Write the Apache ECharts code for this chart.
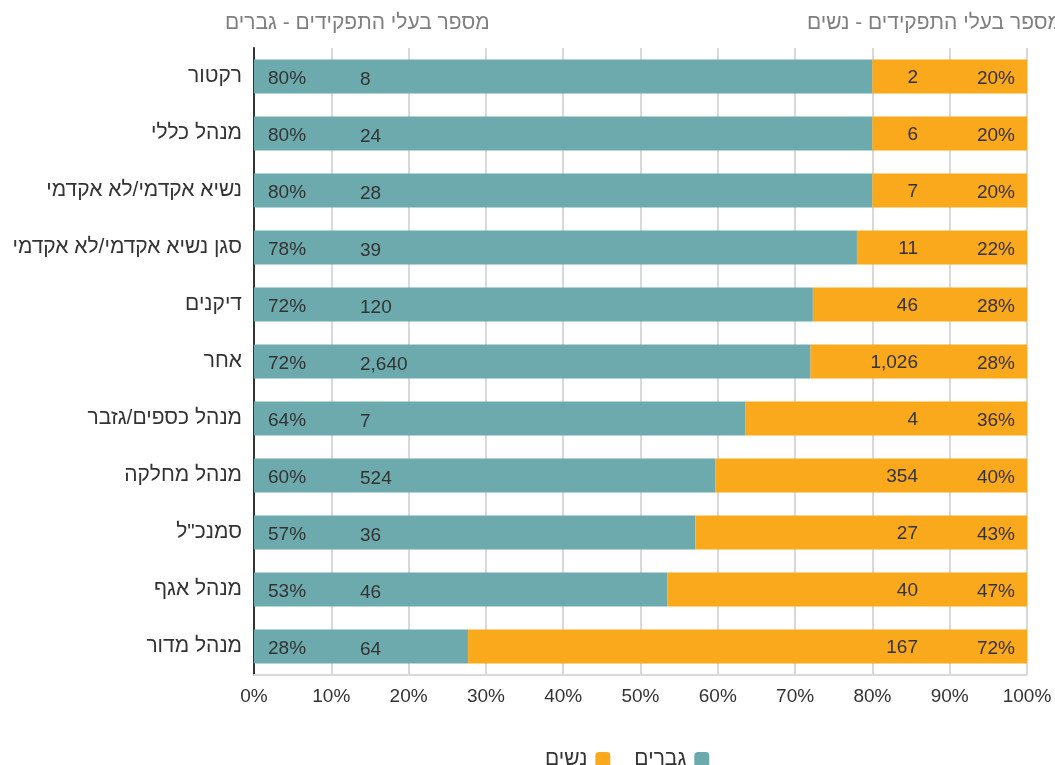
<!DOCTYPE html>
<html>
<head>
<meta charset="utf-8">
<script src="https://cdn.jsdelivr.net/npm/echarts@6/dist/echarts.min.js"></script>
<style>
html, body { margin: 0; padding: 0; background: #fff; }
#chart { width: 1055px; height: 765px; }
</style>
</head>
<body>
<div id="chart"></div>
<script>
const categories = ['רקטור', 'מנהל כללי', 'נשיא אקדמי/לא אקדמי', 'סגן נשיא אקדמי/לא אקדמי', 'דיקנים', 'אחר', 'מנהל כספים/גזבר', 'מנהל מחלקה', 'סמנכ"ל', 'מנהל אגף', 'מנהל מדור']
const menPct = [80, 80, 80, 78, 72.3, 72, 63.6, 59.7, 57.1, 53.5, 27.7]
const womenPct = [20, 20, 20, 22, 27.7, 28, 36.4, 40.3, 42.9, 46.5, 72.3]
const menCount = ['8', '24', '28', '39', '120', '2,640', '7', '524', '36', '46', '64']
const womenCount = ['2', '6', '7', '11', '46', '1,026', '4', '354', '27', '40', '167']
const menLabel = ['80%', '80%', '80%', '78%', '72%', '72%', '64%', '60%', '57%', '53%', '28%']
const womenLabel = ['20%', '20%', '20%', '22%', '28%', '28%', '36%', '40%', '43%', '47%', '72%']
const xTicks = [0, 10, 20, 30, 40, 50, 60, 70, 80, 90, 100]

const font = "'Liberation Sans', 'DejaVu Sans', sans-serif"
const chart = echarts.init(document.getElementById('chart'))
chart.setOption({
	animation: false,
	textStyle: { fontFamily: font },
	grid: {
		left: 254,
		right: 28,
		top: 48,
		bottom: 90,
	},
	graphic: [
		{
			type: 'text',
			left: 225,
			top: 13,
			style: { text: 'מספר בעלי התפקידים - גברים', fontSize: 21, fill: '#7f7f7f', fontFamily: font }
		},
		{
			type: 'text',
			x: 1062,
			y: 13,
			style: { text: 'מספר בעלי התפקידים - נשים', fontSize: 21, fill: '#7f7f7f', fontFamily: font, align: 'right' }
		}
	],
	legend: {
		left: 540,
		top: 744,
		align: 'right',
		itemWidth: 15,
		itemHeight: 15,
		itemGap: 24,
		textStyle: { fontSize: 21, color: '#333', fontFamily: font, padding: [0, 3, 0, 0] },
		data: ['נשים', 'גברים']
	},
	xAxis: {
		type: 'value',
		min: 0,
		max: 100,
		interval: 10,
		axisLine: { show: true, lineStyle: { color: '#d9d9d9', width: 2 } },
		axisTick: { show: false },
		splitLine: { lineStyle: { color: '#d9d9d9', width: 2 } },
		axisLabel: {
			color: '#333',
			fontSize: 19,
			margin: 12,
			formatter: v => (xTicks.includes(v) ? v + '%' : '')
		}
	},
	yAxis: {
		type: 'category',
		inverse: true,
		data: categories,
		axisLine: { lineStyle: { color: '#333', width: 2 } },
		axisTick: { show: false },
		axisLabel: { color: '#333', fontSize: 21, margin: 12, padding: [4, 0, 0, 0] }
	},
	series: [
		{
			name: 'גברים',
			type: 'bar',
			stack: 'total',
			barWidth: '60%',
			data: menPct,
			itemStyle: { color: '#6CAAAD' },
			label: {
				show: true,
				position: 'insideLeft',
				distance: 14,
				offset: [0, 2],
				formatter: p => '{p|' + menLabel[p.dataIndex] + '}{c|' + menCount[p.dataIndex] + '}',
				rich: {
					p: { width: 92, fontSize: 19, color: '#333', fontFamily: font },
					c: { fontSize: 19, color: '#333', fontFamily: font, padding: [3, 0, 0, 0] }
				}
			}
		},
		{
			name: 'נשים',
			type: 'bar',
			stack: 'total',
			data: womenPct,
			itemStyle: { color: '#FAA81C' },
			label: {
				show: true,
				position: 'insideRight',
				distance: 12,
				offset: [0, 1],
				formatter: p => '{c|' + womenCount[p.dataIndex] + '}{p|' + womenLabel[p.dataIndex] + '}',
				rich: {
					c: { fontSize: 19, color: '#333', fontFamily: font },
					p: { width: 97, align: 'right', fontSize: 19, color: '#333', fontFamily: font, padding: [3, 0, 0, 0] }
				}
			}
		}
	]
})
window.addEventListener('resize', () => chart.resize())
</script>
</body>
</html>
